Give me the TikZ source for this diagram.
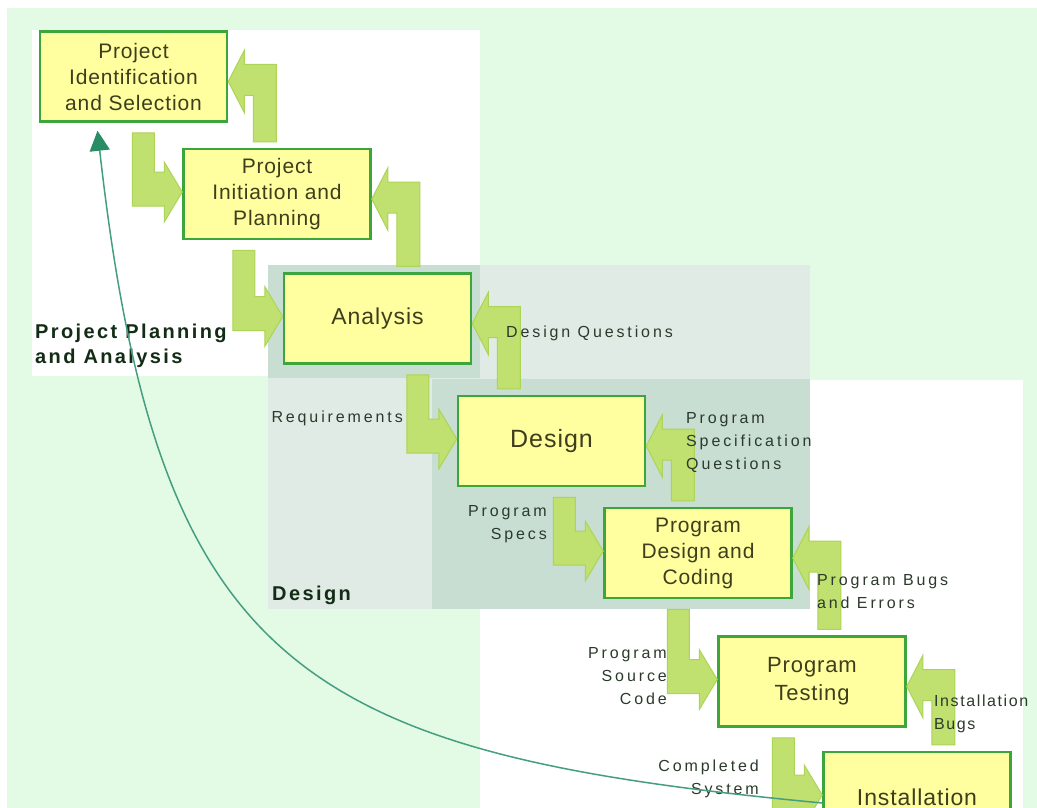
\documentclass[tikz,border=0pt]{standalone}
\usepackage{fontspec}
\setmainfont{Liberation Sans}
\usetikzlibrary{arrows.meta,calc}

\definecolor{bggreen}{RGB}{227,250,228}
\definecolor{zonelight}{RGB}{224,235,229}
\definecolor{zonedark}{RGB}{200,222,210}
\definecolor{boxfill}{RGB}{255,255,160}
\definecolor{boxline}{RGB}{60,165,60}
\definecolor{flowfill}{RGB}{192,224,112}
\definecolor{flowline}{RGB}{172,212,86}
\definecolor{boxtext}{RGB}{62,62,28}
\definecolor{lbltext}{RGB}{44,58,44}
\definecolor{hdrtext}{RGB}{18,44,22}
\definecolor{loopline}{RGB}{70,158,130}
\definecolor{loophead}{RGB}{40,140,100}

\begin{document}
\begin{tikzpicture}
  [x=1pt,y=-1pt,
   box/.style={rectangle,draw=boxline,line width=2.5pt,fill=boxfill,
     minimum width=187pt,minimum height=90pt,inner sep=0pt,align=center,text=boxtext,
     font=\fontsize{21}{26}\selectfont\addfontfeature{LetterSpace=4}},
   big/.style={font=\fontsize{#1}{28}\selectfont\addfontfeature{LetterSpace=4}},
   flow/.style={fill=flowfill,draw=flowline,line width=1pt,line join=miter},
   lbl/.style={inner sep=0pt,text=lbltext,
     font=\fontsize{16}{23}\selectfont\addfontfeature{LetterSpace=18}},
   hdr/.style={inner sep=0pt,anchor=west,align=left,text=hdrtext,
     font=\fontsize{20}{25}\selectfont\bfseries\addfontfeature{LetterSpace=12}},
   ret/.style={draw=loopline,line width=1.5pt,
     -{Triangle[length=20pt,width=20pt,color=loophead]}}]

  \useasboundingbox (0,0) rectangle (1037,808);
  \clip (0,0) rectangle (1037,808);

  \fill[bggreen] (7,8) rectangle (1037,808);
  \fill[white] (32,30) rectangle (480,376);
  \fill[white] (480,380) rectangle (1023,808);
  \fill[zonelight] (268,265) rectangle (810,609);
  \fill[zonedark] (268,265) rectangle (480,378);
  \fill[zonedark] (432,379) rectangle (810,609);

  \node[box] (n1) at (133.5,76.5) {Project\\Identification\\and Selection};
  \node[box] (n2) at (277,194) {Project\\Initiation and\\Planning};
  \node[box,big=23] (n3) at (377.5,318.5) {Analysis};
  \node[box,big=25] (n4) at (551.5,441) {Design};
  \node[box] (n5) at (698,553) {Program\\Design and\\Coding};
  \node[box,big=22] (n6) at (812,681.5) {Program\\Testing};
  \node[box,big=23] (n7) at (917,797) {Installation};

  \foreach \a/\b in {n1/n2,n2/n3,n3/n4,n4/n5,n5/n6,n6/n7}
    \filldraw[flow] let \p1=(\b.west), \p2=(\a.south) in
      (\x1-50pt,\y2-10pt) -- (\x1-28pt,\y2-10pt) -- (\x1-28pt,\y1+22pt) -- (\x1-18pt,\y1+22pt)
      -- (\x1-18pt,\y1+32pt) -- (\x1,\y1+2pt) -- (\x1-18pt,\y1-28pt) -- (\x1-18pt,\y1-12pt)
      -- (\x1-50pt,\y1-12pt) -- cycle;

  \foreach \a/\b in {n2/n1,n3/n2,n4/n3,n5/n4,n6/n5,n7/n6}
    \filldraw[flow] let \p1=(\b.east), \p2=(\a.north) in
      (\x1+25pt,\y2+6pt) -- (\x1+48pt,\y2+6pt) -- (\x1+48pt,\y1+12pt) -- (\x1+16pt,\y1+12pt)
      -- (\x1+16pt,\y1+26pt) -- (\x1,\y1-5pt) -- (\x1+16pt,\y1-36pt) -- (\x1+16pt,\y1-19pt)
      -- (\x1+25pt,\y1-19pt) -- cycle;

  \node[lbl,anchor=west] (l1) at (506,333) {Design Questions};
  \node[lbl,anchor=east] (l2) at (403,418) {Requirements};
  \node[lbl,anchor=west,align=left] (l3) at (686,443) {Program\\Specification\\Questions};
  \node[lbl,anchor=east,align=right] (l4) at (547,524) {Program\\Specs};
  \node[lbl,anchor=west,align=left] (l5) at (817,591.5) {Program Bugs\\and Errors};
  \node[lbl,anchor=east,align=right] (l6) at (667,676) {Program\\Source\\Code};
  \node[lbl,anchor=west,align=left,font=\fontsize{16}{23}\selectfont\addfontfeature{LetterSpace=10}]
    (l7) at (934,714) {Installation\\Bugs};
  \node[lbl,anchor=east,align=right] (l8) at (759,779) {Completed\\System};

  \node[hdr] (h1) at (35,346) {Project Planning\\and Analysis};
  \node[hdr] (h2) at (272,595) {Design};

  \draw[ret] ([yshift=-6pt]n7.west) .. controls (302,754) and (158,670) .. ([xshift=-36pt,yshift=-8pt]n1.south);
\end{tikzpicture}
\end{document}
